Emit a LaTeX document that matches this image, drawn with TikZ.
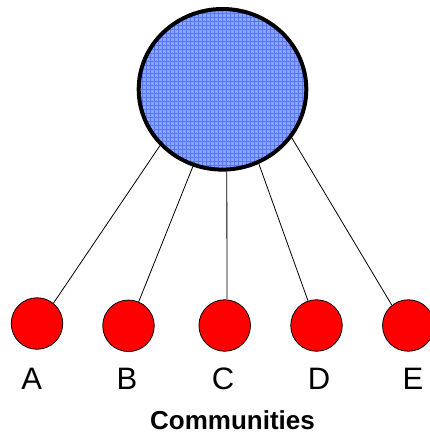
\documentclass[tikz,border=0pt]{standalone}
\usepackage{fontspec}
\setmainfont{Liberation Sans}
\usetikzlibrary{shapes.geometric}
\definecolor{hubfill}{RGB}{138,166,255}
\definecolor{hubgrid}{RGB}{88,118,255}
\begin{document}
\begin{tikzpicture}[x=1pt,y=-1pt,
  hub/.style={ellipse,draw=black,line width=4pt,fill=hubfill,inner sep=0pt,
    minimum width=167.6pt,minimum height=160.6pt,
    path picture={\draw[hubgrid,line width=0.9pt,step=4pt]
      (path picture bounding box.south west) grid (path picture bounding box.north east);}},
  comm/.style={circle,draw=black,line width=0.8pt,fill=red,inner sep=0pt,minimum size=51.5pt},
  lbl/.style={anchor=base,font=\fontsize{31}{31}\selectfont},
  link/.style={draw=black,line width=0.8pt}]
\useasboundingbox (0,0) rectangle (429,433);
\node[hub] (hub) at (222.5,89.3) {};
\node[comm] (a) at (37,323.5) {};
\node[comm] (b) at (128.5,325.8) {};
\node[comm] (c) at (224.7,325.5) {};
\node[comm] (d) at (316.5,325.5) {};
\node[comm] (e) at (408.3,325.5) {};
\draw[link] (hub.222.6) -- (a.51);
\draw[link] (hub.249.5) -- (b.67);
\draw[link] (hub.273.1) -- (c.85.6);
\draw[link] (hub.296.5) -- (d.109.8);
\draw[link] (hub.325.3) -- (e.129.9);
\node[lbl] (la) at (31.7,389) {A};
\node[lbl] (lb) at (127,389) {B};
\node[lbl] (lc) at (223,389) {C};
\node[lbl] (ld) at (319,389) {D};
\node[lbl] (le) at (413,389) {E};
\node[anchor=base,font=\bfseries\fontsize{26}{26}\selectfont] (title) at (232.5,429) {Communities};
\end{tikzpicture}
\end{document}
